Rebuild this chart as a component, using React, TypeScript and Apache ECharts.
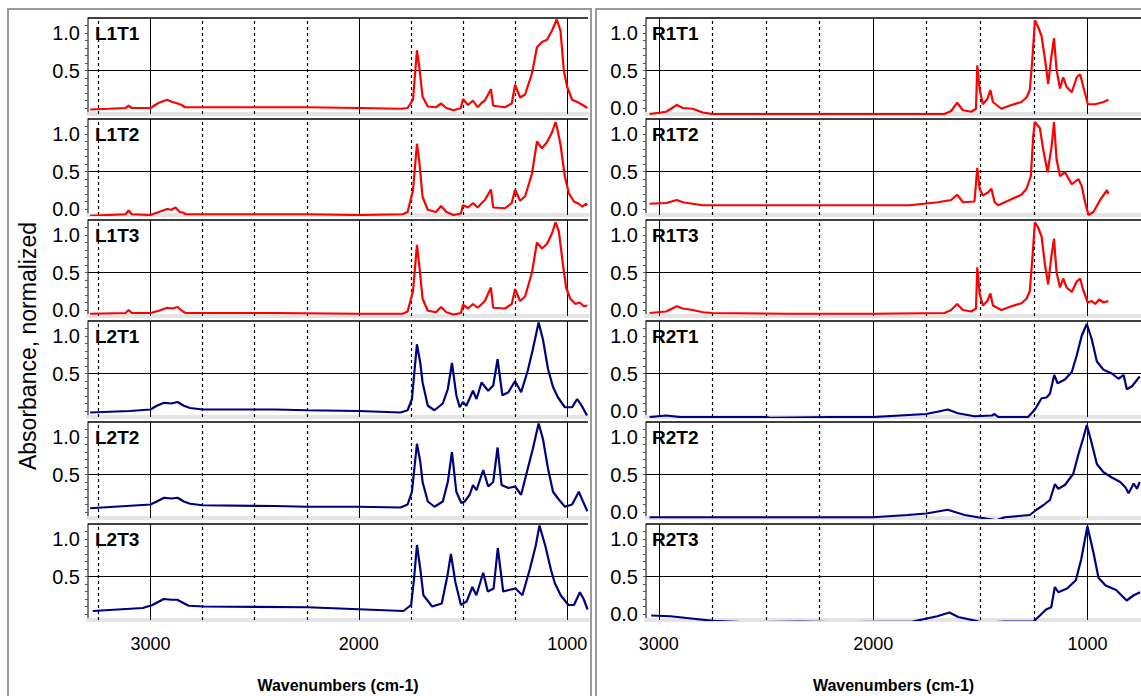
import React, { useEffect, useRef } from "react";
import * as echarts from "echarts";

type Pt = [number, number];

// ---------- spectra (wavenumber, normalized absorbance) ----------
const L1T1: Pt[] = [
  [3290, -0.02], [3200, -0.01], [3120, 0.0], [3105, 0.03], [3090, 0.0], [3000, 0.0], [2960, 0.07], [2920, 0.11],
  [2895, 0.08], [2870, 0.06], [2850, 0.04], [2835, 0.01], [2700, 0.01], [2400, 0.01], [2250, 0.01], [2000, 0.0],
  [1800, -0.01], [1766, 0.0], [1740, 0.11], [1721, 0.77], [1710, 0.55], [1694, 0.15], [1669, 0.02], [1630, 0.01],
  [1605, 0.06], [1580, 0.0], [1545, -0.03], [1510, 0.0], [1500, 0.12], [1476, 0.04], [1452, 0.1], [1430, 0.01],
  [1410, 0.07], [1395, 0.1], [1366, 0.25], [1355, 0.03], [1298, 0.01], [1266, 0.06], [1250, 0.31], [1226, 0.14],
  [1202, 0.18], [1169, 0.46], [1145, 0.81], [1121, 0.88], [1097, 0.91], [1073, 1.03], [1050, 1.18], [1032, 1.03],
  [1016, 0.5], [1000, 0.28], [976, 0.11], [944, 0.07], [920, 0.03], [903, 0.0],
];
const L1T2: Pt[] = [
  [3290, -0.09], [3120, -0.07], [3105, -0.02], [3090, -0.07], [3000, -0.08], [2960, -0.04], [2920, 0.0], [2900, -0.01],
  [2880, 0.02], [2860, -0.04], [2840, -0.05], [2835, -0.07], [2250, -0.07], [2000, -0.08], [1790, -0.07], [1766, -0.04],
  [1740, 0.25], [1721, 0.87], [1710, 0.64], [1694, 0.16], [1669, -0.01], [1630, -0.04], [1605, 0.04], [1580, -0.04],
  [1545, -0.08], [1510, -0.06], [1500, 0.05], [1476, 0.02], [1452, 0.08], [1430, 0.02], [1410, 0.08], [1395, 0.12],
  [1366, 0.26], [1355, 0.02], [1298, 0.01], [1266, 0.08], [1250, 0.26], [1226, 0.11], [1202, 0.17], [1169, 0.47],
  [1145, 0.9], [1130, 0.84], [1121, 0.81], [1097, 0.89], [1073, 1.02], [1056, 1.16], [1048, 1.08], [1032, 0.86],
  [1011, 0.43], [992, 0.21], [968, 0.1], [944, 0.07], [927, 0.03], [910, 0.07], [903, 0.05],
];
const L1T3: Pt[] = [
  [3290, -0.05], [3120, -0.04], [3105, 0.0], [3090, -0.04], [3000, -0.04], [2960, -0.01], [2920, 0.03], [2895, 0.02],
  [2870, 0.04], [2845, -0.02], [2830, -0.04], [2400, -0.04], [2000, -0.05], [1790, -0.05], [1766, -0.02], [1740, 0.25],
  [1721, 0.87], [1710, 0.6], [1694, 0.15], [1669, -0.01], [1630, -0.03], [1605, 0.04], [1580, -0.03], [1545, -0.06],
  [1510, -0.04], [1500, 0.07], [1476, 0.02], [1452, 0.08], [1430, 0.03], [1410, 0.08], [1395, 0.12], [1366, 0.3],
  [1355, 0.03], [1298, 0.02], [1266, 0.08], [1250, 0.28], [1226, 0.12], [1202, 0.18], [1169, 0.5], [1145, 0.9],
  [1121, 0.82], [1097, 0.88], [1073, 1.02], [1056, 1.17], [1040, 1.05], [1020, 0.6], [1005, 0.3], [985, 0.15],
  [960, 0.08], [940, 0.1], [920, 0.05], [903, 0.06],
];
const L2T1: Pt[] = [
  [3290, -0.02], [3100, 0.0], [3000, 0.02], [2970, 0.07], [2935, 0.11], [2900, 0.1], [2870, 0.12], [2840, 0.07],
  [2810, 0.04], [2750, 0.02], [2400, 0.02], [2250, 0.01], [2000, 0.0], [1800, -0.02], [1766, 0.01], [1745, 0.16],
  [1735, 0.47], [1721, 0.89], [1705, 0.64], [1694, 0.38], [1669, 0.07], [1637, 0.01], [1597, 0.1], [1573, 0.29],
  [1553, 0.64], [1532, 0.21], [1516, 0.05], [1500, 0.12], [1484, 0.07], [1452, 0.27], [1435, 0.16], [1411, 0.38],
  [1379, 0.27], [1355, 0.34], [1334, 0.69], [1311, 0.21], [1282, 0.25], [1250, 0.4], [1221, 0.25], [1189, 0.54],
  [1165, 0.82], [1137, 1.18], [1116, 0.95], [1092, 0.56], [1068, 0.32], [1044, 0.18], [1011, 0.05], [976, 0.05],
  [952, 0.16], [930, 0.07], [905, -0.06],
];
const L2T2: Pt[] = [
  [3290, 0.05], [3000, 0.1], [2970, 0.14], [2935, 0.19], [2900, 0.18], [2870, 0.19], [2840, 0.14], [2810, 0.11],
  [2750, 0.09], [2400, 0.08], [2250, 0.07], [2000, 0.07], [1800, 0.06], [1766, 0.1], [1745, 0.27], [1735, 0.54],
  [1721, 0.91], [1705, 0.67], [1694, 0.4], [1669, 0.14], [1637, 0.07], [1597, 0.14], [1573, 0.4], [1553, 0.8],
  [1532, 0.27], [1508, 0.12], [1492, 0.14], [1468, 0.23], [1452, 0.36], [1435, 0.29], [1403, 0.56], [1379, 0.34],
  [1355, 0.4], [1334, 0.86], [1315, 0.36], [1282, 0.32], [1250, 0.34], [1221, 0.23], [1189, 0.58], [1165, 0.84],
  [1137, 1.18], [1116, 0.97], [1092, 0.58], [1068, 0.27], [1044, 0.18], [1011, 0.07], [976, 0.1], [944, 0.27],
  [924, 0.14], [903, 0.01],
];
const L2T3: Pt[] = [
  [3277, 0.04], [3037, 0.08], [2991, 0.12], [2936, 0.2], [2900, 0.19], [2872, 0.19], [2817, 0.11], [2743, 0.1],
  [2246, 0.09], [1786, 0.04], [1749, 0.12], [1735, 0.47], [1721, 0.92], [1705, 0.6], [1690, 0.25], [1648, 0.1],
  [1602, 0.14], [1574, 0.52], [1558, 0.8], [1537, 0.43], [1510, 0.12], [1482, 0.17], [1455, 0.36], [1436, 0.25],
  [1403, 0.55], [1381, 0.3], [1353, 0.34], [1333, 0.88], [1307, 0.3], [1280, 0.32], [1248, 0.34], [1215, 0.25],
  [1179, 0.6], [1151, 0.91], [1133, 1.18], [1105, 0.91], [1077, 0.58], [1059, 0.41], [1031, 0.25], [994, 0.12],
  [967, 0.12], [939, 0.29], [921, 0.2], [902, 0.06],
];

const R1T1: Pt[] = [
  [3043, -0.08], [2966, -0.05], [2916, 0.04], [2888, 0.0], [2842, -0.01], [2795, -0.06], [2750, -0.08], [2400, -0.08],
  [2000, -0.08], [1667, -0.08], [1636, -0.04], [1608, 0.07], [1581, -0.03], [1542, -0.05], [1520, -0.01], [1514, 0.57],
  [1503, 0.25], [1488, 0.05], [1467, 0.12], [1453, 0.24], [1441, 0.08], [1402, -0.01], [1355, 0.04], [1308, 0.08],
  [1284, 0.14], [1269, 0.24], [1258, 0.61], [1245, 1.17], [1230, 1.08], [1214, 0.96], [1198, 0.65], [1183, 0.32],
  [1170, 0.65], [1156, 0.93], [1144, 0.51], [1128, 0.26], [1113, 0.41], [1097, 0.28], [1073, 0.21], [1050, 0.41],
  [1034, 0.45], [1019, 0.28], [998, 0.05], [964, 0.05], [925, 0.08], [902, 0.11],
];
const R1T2: Pt[] = [
  [3043, 0.07], [2966, 0.08], [2916, 0.12], [2888, 0.09], [2842, 0.07], [2795, 0.05], [2400, 0.05], [2000, 0.05],
  [1830, 0.05], [1698, 0.09], [1636, 0.12], [1608, 0.19], [1581, 0.09], [1527, 0.1], [1514, 0.55], [1503, 0.27],
  [1488, 0.18], [1464, 0.22], [1448, 0.27], [1433, 0.09], [1417, 0.05], [1355, 0.13], [1308, 0.19], [1284, 0.27],
  [1264, 0.44], [1253, 0.97], [1245, 1.16], [1222, 1.08], [1206, 0.79], [1186, 0.49], [1167, 0.84], [1156, 1.16],
  [1144, 0.66], [1128, 0.44], [1105, 0.49], [1073, 0.33], [1042, 0.4], [1027, 0.31], [1011, 0.09], [995, -0.08],
  [972, -0.04], [941, 0.12], [909, 0.25], [902, 0.2],
];
const R1T3: Pt[] = [
  [3043, -0.04], [2966, -0.02], [2916, 0.05], [2888, 0.02], [2842, 0.0], [2795, -0.03], [2750, -0.04], [2400, -0.05],
  [2000, -0.05], [1667, -0.04], [1636, 0.0], [1608, 0.08], [1581, 0.0], [1542, -0.02], [1520, 0.02], [1514, 0.57],
  [1503, 0.22], [1488, 0.06], [1467, 0.12], [1453, 0.22], [1441, 0.06], [1402, 0.0], [1355, 0.05], [1308, 0.09],
  [1284, 0.15], [1269, 0.25], [1258, 0.65], [1245, 1.17], [1230, 1.1], [1214, 0.98], [1198, 0.6], [1183, 0.34],
  [1170, 0.68], [1156, 0.95], [1144, 0.5], [1128, 0.3], [1113, 0.42], [1097, 0.3], [1073, 0.24], [1050, 0.38],
  [1034, 0.42], [1019, 0.26], [998, 0.1], [980, 0.12], [964, 0.08], [945, 0.14], [925, 0.1], [902, 0.12],
];
const R2T1: Pt[] = [
  [3043, -0.08], [2966, -0.06], [2900, -0.08], [2500, -0.08], [2480, -0.09], [2200, -0.08], [2000, -0.08], [1753, -0.04],
  [1700, -0.01], [1652, 0.02], [1605, -0.03], [1527, -0.07], [1445, -0.06], [1433, -0.04], [1417, -0.08], [1277, -0.08],
  [1245, 0.02], [1214, 0.17], [1191, 0.18], [1175, 0.23], [1155, 0.48], [1139, 0.37], [1105, 0.42], [1073, 0.52],
  [1050, 0.74], [1027, 1.0], [1003, 1.16], [980, 0.96], [956, 0.66], [925, 0.55], [886, 0.5], [855, 0.43],
  [831, 0.48], [816, 0.29], [792, 0.33], [756, 0.46],
];
const R2T2: Pt[] = [
  [3043, -0.07], [2700, -0.07], [2400, -0.07], [2000, -0.07], [1839, -0.04], [1753, -0.02], [1652, 0.03], [1573, -0.04],
  [1511, -0.07], [1425, -0.11], [1386, -0.07], [1269, -0.04], [1238, 0.03], [1206, 0.09], [1175, 0.16], [1152, 0.37],
  [1136, 0.31], [1105, 0.36], [1066, 0.51], [1042, 0.77], [1019, 0.99], [1003, 1.16], [983, 0.95], [956, 0.64],
  [925, 0.53], [886, 0.46], [847, 0.4], [823, 0.33], [808, 0.25], [784, 0.38], [769, 0.31], [756, 0.4],
];
const R2T3: Pt[] = [
  [3036, -0.02], [2946, -0.03], [2848, -0.06], [2749, -0.09], [2602, -0.11], [2340, -0.1], [2176, -0.11], [1816, -0.1],
  [1701, -0.03], [1644, 0.02], [1603, -0.04], [1521, -0.09], [1488, -0.12], [1390, -0.1], [1251, -0.1], [1218, -0.01],
  [1193, 0.06], [1169, 0.09], [1152, 0.36], [1136, 0.29], [1095, 0.34], [1054, 0.45], [1029, 0.73], [1000, 1.17],
  [972, 0.82], [948, 0.48], [915, 0.38], [866, 0.32], [817, 0.18], [784, 0.25], [754, 0.29],
];

// ---------- names and ticks ----------
const LEFT_NAMES = ["L1T1", "L1T2", "L1T3", "L2T1", "L2T2", "L2T3"];
const RIGHT_NAMES = ["R1T1", "R1T2", "R1T3", "R2T1", "R2T2", "R2T3"];
const LEFT_DATA = [L1T1, L1T2, L1T3, L2T1, L2T2, L2T3];
const RIGHT_DATA = [R1T1, R1T2, R1T3, R2T1, R2T2, R2T3];
const X_TICK_LABELS = [3000, 2000, 1000];
const SOLID_X = [3000, 2000, 1000];
const LEFT_DASHED_X = [3250, 2750, 2500, 2250, 1750, 1500, 1250];
const RIGHT_DASHED_X = [2750, 2500, 2250, 1750, 1500, 1250];
const LEFT_Y_LABELS = [[0.5, 1.0], [0, 0.5, 1.0], [0, 0.5, 1.0], [0.5, 1.0], [0.5, 1.0], [0.5, 1.0]];
const RIGHT_Y_LABELS = [[0, 0.5, 1.0], [0, 0.5, 1.0], [0, 0.5, 1.0], [0, 0.5, 1.0], [0, 0.5, 1.0], [0, 0.5, 1.0]];
const Y_MINOR_TICKS = [0, 0.1, 0.2, 0.3, 0.4, 0.5, 0.6, 0.7, 0.8, 0.9, 1.0, 1.1];

const RED = "#ff0000";
const BLUE = "#00007f";
const FONT = '"Liberation Sans", Arial, sans-serif';

const TOPS = [18, 119, 220, 321, 422, 524];
const PH = 96;
const Y_MIN = -0.08;
const Y_MAX = 1.2;

export default function App() {
  const ref = useRef<HTMLDivElement>(null);

  useEffect(() => {
    if (!ref.current) return;
    const chart = echarts.init(ref.current, undefined, { renderer: "svg" });

    const grids: any[] = [];
    const xAxes: any[] = [];
    const yAxes: any[] = [];
    const series: any[] = [];
    const graphics: any[] = [];

    const panels = [
      { left: 88, width: 500, min: 900, max: 3300, names: LEFT_NAMES, data: LEFT_DATA, dashed: LEFT_DASHED_X, yLabels: LEFT_Y_LABELS, labelX: 95 },
      { left: 646, width: 495, min: 750, max: 3060, names: RIGHT_NAMES, data: RIGHT_DATA, dashed: RIGHT_DASHED_X, yLabels: RIGHT_Y_LABELS, labelX: 652 },
    ];

    panels.forEach((p) => {
      p.names.forEach((name, r) => {
        const idx = grids.length;
        const last = r === 5;
        grids.push({ left: p.left, top: TOPS[r], width: p.width, height: PH });
        xAxes.push({
          gridIndex: idx,
          type: "value",
          inverse: true,
          min: p.min,
          max: p.max,
          axisLine: { show: true, onZero: false, lineStyle: { color: "#e4e4e4", width: 4 } },
          axisTick: { show: false },
          splitLine: { show: false },
          axisLabel: last
            ? {
                show: true,
                customValues: X_TICK_LABELS,
                formatter: (v: number) => String(v),
                fontSize: 18,
                color: "#000",
                margin: 15,
                fontFamily: FONT,
              }
            : { show: false },
          name: last ? "Wavenumbers (cm-1)" : "",
          nameLocation: "middle",
          nameGap: 57,
          nameTextStyle: { fontWeight: "bold", fontSize: 16, fontFamily: FONT, color: "#000" },
        });
        yAxes.push({
          gridIndex: idx,
          type: "value",
          min: Y_MIN,
          max: Y_MAX,
          axisLine: { show: true, onZero: false, lineStyle: { color: "#555", width: 1.5 } },
          axisTick: { show: true, customValues: Y_MINOR_TICKS, length: 3, lineStyle: { color: "#555" } },
          axisLabel: {
            show: true,
            customValues: p.yLabels[r],
            formatter: (v: number) => v.toFixed(1),
            fontSize: 20,
            color: "#000",
            margin: 8,
            fontFamily: FONT,
          },
          splitLine: { show: false },
        });
        const markData: any[] = [
          ...SOLID_X.map((v) => ({ xAxis: v, lineStyle: { color: "#000", width: 1, type: "solid" } })),
          ...p.dashed.map((v) => ({ xAxis: v, lineStyle: { color: "#000", width: 1.2, type: [3, 3] } })),
          { yAxis: 0.5, lineStyle: { color: "#000", width: 1, type: "solid" } },
          { yAxis: Y_MAX, lineStyle: { color: "#000", width: 1.5, type: "solid" } },
        ];
        series.push({
          type: "line",
          name,
          xAxisIndex: idx,
          yAxisIndex: idx,
          data: p.data[r],
          showSymbol: false,
          symbol: "none",
          clip: true,
          z: 3,
          lineStyle: { color: r < 3 ? RED : BLUE, width: 2.2 },
          emphasis: { disabled: true },
          markLine: {
            silent: true,
            symbol: ["none", "none"],
            label: { show: false },
            emphasis: { disabled: true },
            z: 1,
            data: markData,
          },
        });
        graphics.push({
          type: "text",
          x: p.labelX,
          y: TOPS[r] + 15,
          style: { text: name, font: `bold 19px ${FONT}`, fill: "#000", textVerticalAlign: "middle" },
        });
      });
    });

    graphics.push(
      { type: "rect", shape: { x: 8, y: 9, width: 583, height: 700 }, style: { fill: "none", stroke: "#9a9a9a", lineWidth: 2 } },
      { type: "rect", shape: { x: 596, y: 9, width: 560, height: 700 }, style: { fill: "none", stroke: "#9a9a9a", lineWidth: 2 } },
      {
        type: "text",
        x: 28,
        y: 346,
        rotation: Math.PI / 2,
        style: { text: "Absorbance, normalized", font: `23px ${FONT}`, fill: "#000", textAlign: "center", textVerticalAlign: "middle" },
      }
    );

    chart.setOption({
      animation: false,
      backgroundColor: "#fff",
      grid: grids,
      xAxis: xAxes,
      yAxis: yAxes,
      series,
      graphic: graphics,
    });

    return () => chart.dispose();
  }, []);

  return <div ref={ref} style={{ position: "absolute", left: 0, top: 0, width: 1141, height: 696 }} />;
}
